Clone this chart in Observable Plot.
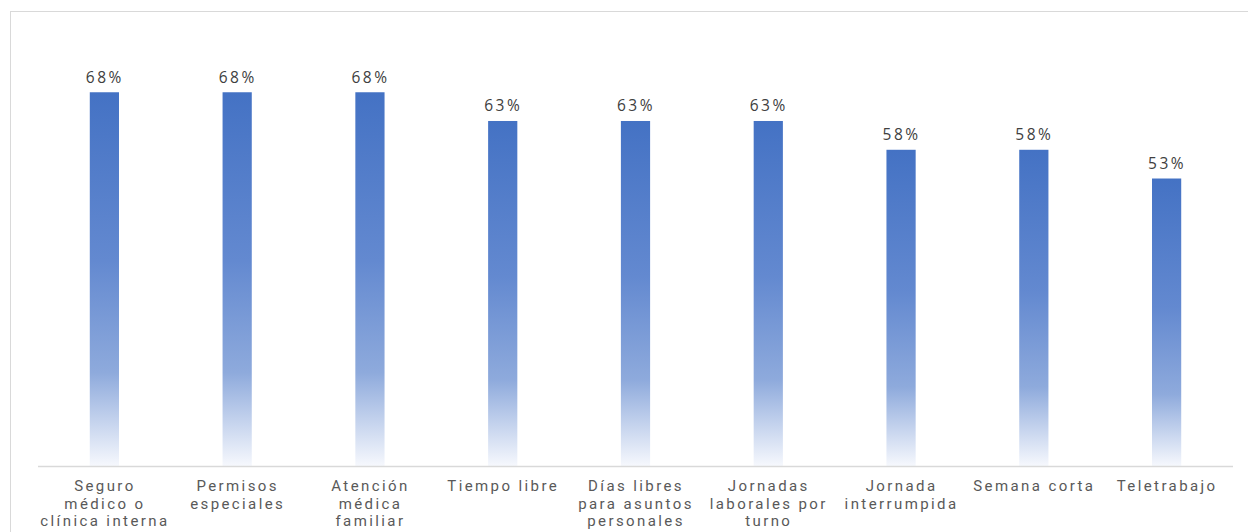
<!DOCTYPE html>
<html>
<head>
<meta charset="utf-8">
<script src="https://cdn.jsdelivr.net/npm/d3@7"></script>
<script src="https://cdn.jsdelivr.net/npm/@observablehq/plot@0.6"></script>
<style>
  html, body { margin: 0; padding: 0; background: #fff; }
  #wrap { position: relative; width: 1248px; height: 532px; overflow: hidden; }
  #frame { position: absolute; left: 10px; top: 11px; width: 1300px; height: 600px;
           border-top: 1.5px solid #d9d9d9; border-left: 1.5px solid #d9d9d9; }
  #chart { position: absolute; left: 0; top: 0; }
</style>
</head>
<body>
<div id="wrap"><div id="frame"></div><div id="chart"></div></div>
<script>
const categories = [
  "Seguro médico o clínica interna",
  "Permisos especiales",
  "Atención médica familiar",
  "Tiempo libre",
  "Días libres para asuntos personales",
  "Jornadas laborales por turno",
  "Jornada interrumpida",
  "Semana corta",
  "Teletrabajo"
];
const tickLabels = [
  "Seguro\nmédico o\nclínica interna",
  "Permisos\nespeciales",
  "Atención\nmédica\nfamiliar",
  "Tiempo libre",
  "Días libres\npara asuntos\npersonales",
  "Jornadas\nlaborales por\nturno",
  "Jornada\ninterrumpida",
  "Semana corta",
  "Teletrabajo"
];
const values = [68.42, 68.42, 68.42, 63.16, 63.16, 63.16, 57.89, 57.89, 52.63];

const data = categories.map((c, i) => ({category: c, value: values[i], label: tickLabels[i]}));
const labelOf = new Map(data.map(d => [d.category, d.label]));

const font = "'Open Sans', 'Noto Sans', sans-serif";

const chart = Plot.plot({
  width: 1248,
  height: 532,
  marginLeft: 38,
  marginRight: 15,
  marginTop: 29,
  marginBottom: 66,
  style: {fontFamily: font, background: "transparent", overflow: "visible"},
  x: {domain: categories, paddingInner: 0.78, paddingOuter: 0.39, round: false, label: null},
  y: {domain: [0, 80], axis: null},
  marks: [
    Plot.barY(data, {x: "category", y: "value", fill: "url(#barGrad)"}),
    Plot.ruleY([0], {stroke: "#d9d9d9", strokeWidth: 1.5}),
    Plot.text(data, {
      x: "category", y: "value", dy: -15,
      text: d => Math.round(d.value) + "%",
      fontSize: 15.5, fill: "#404040", className: "vlabel"
    }),
    Plot.axisX({
      tickSize: 0, tickPadding: 12, fontSize: 15, lineHeight: 1.18,
      fontFamily: "Roboto, 'Open Sans', sans-serif",
      tickFormat: c => labelOf.get(c), fill: "#595959", label: null, className: "xlabel"
    })
  ]
});

const svg = d3.select(chart);
const defs = svg.insert("defs", ":first-child");
const g = defs.append("linearGradient").attr("id", "barGrad")
  .attr("x1", 0).attr("y1", 0).attr("x2", 0).attr("y2", 1);
g.append("stop").attr("offset", "0%").attr("stop-color", "#4472c4");
g.append("stop").attr("offset", "45%").attr("stop-color", "#6389d0");
g.append("stop").attr("offset", "75%").attr("stop-color", "#8eaadc");
g.append("stop").attr("offset", "100%").attr("stop-color", "#f6f8fd");
svg.selectAll(".xlabel text").style("letter-spacing", "2.4px");
svg.selectAll(".vlabel text").style("letter-spacing", "2.5px");

document.getElementById("chart").appendChild(chart);
</script>
</body>
</html>
